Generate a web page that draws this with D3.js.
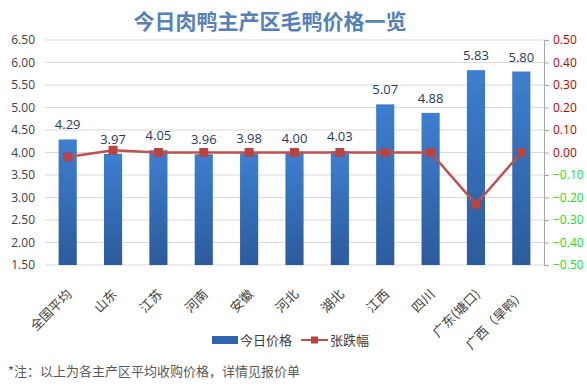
<!DOCTYPE html>
<html>
<head>
<meta charset="utf-8">
<script src="https://cdn.jsdelivr.net/npm/d3@7"></script>
<style>
  body { margin: 0; background: #fff; }
  svg { display: block; font-family: "Noto Sans CJK SC", "Noto Sans", sans-serif; }
</style>
</head>
<body>
<div id="chart"></div>
<script>
const regions = ["全国平均", "山东", "江苏", "河南", "安徽", "河北", "湖北", "江西", "四川", "广东(塘口)", "广西（旱鸭）"];
const prices = [4.29, 3.97, 4.05, 3.96, 3.98, 4.00, 4.03, 5.07, 4.88, 5.83, 5.80];
const changes = [-0.02, 0.01, 0.00, 0.00, 0.00, 0.00, 0.00, 0.00, 0.00, -0.23, 0.00];
const priceTicks = [1.5, 2, 2.5, 3, 3.5, 4, 4.5, 5, 5.5, 6, 6.5];
const changeTicks = [-0.5, -0.4, -0.3, -0.2, -0.1, 0, 0.1, 0.2, 0.3, 0.4, 0.5];

const width = 587;
const height = 389;
const margin = { top: 40, right: 43, bottom: 124, left: 45 };

const svg = d3.select("#chart")
  .append("svg")
  .attr("width", width)
  .attr("height", height);

const defs = svg.append("defs");
const grad = defs.append("linearGradient")
  .attr("id", "barGrad")
  .attr("x1", 0).attr("y1", 0).attr("x2", 0).attr("y2", 1);
grad.append("stop").attr("offset", "0%").attr("stop-color", "#3d7fd0");
grad.append("stop").attr("offset", "100%").attr("stop-color", "#2b5b9c");

const x = d3.scaleBand()
  .domain(regions)
  .range([margin.left, width - margin.right])
  .paddingInner(0.6)
  .paddingOuter(0.3);

const y = d3.scaleLinear()
  .domain([1.5, 6.5])
  .range([height - margin.bottom, margin.top]);

const y2 = d3.scaleLinear()
  .domain([-0.5, 0.5])
  .range([height - margin.bottom, margin.top]);

// title
svg.append("text")
  .attr("x", 270)
  .attr("y", 29)
  .attr("text-anchor", "middle")
  .attr("font-size", "21px")
  .attr("font-weight", "bold")
  .attr("fill", "#5580b8")
  .text("今日肉鸭主产区毛鸭价格一览");

// grid
svg.append("g")
  .selectAll("line")
  .data(priceTicks)
  .join("line")
  .attr("x1", margin.left)
  .attr("x2", width - margin.right)
  .attr("y1", d => y(d))
  .attr("y2", d => y(d))
  .attr("stroke", "#d9d9d9")
  .attr("stroke-width", 1);

// left axis
const yAxis = svg.append("g")
  .attr("transform", `translate(${margin.left},0)`)
  .call(d3.axisLeft(y).tickValues(priceTicks).tickFormat(d3.format(".2f")).tickSize(0).tickPadding(10));
yAxis.select(".domain").remove();
yAxis.selectAll("text")
  .attr("font-size", "12px")
  .attr("fill", "#404040")
  .attr("font-family", "Open Sans, sans-serif");

// right axis
const y2Axis = svg.append("g")
  .attr("transform", `translate(${width - margin.right},0)`)
  .call(d3.axisRight(y2).tickValues(changeTicks).tickFormat(d3.format(".2f")).tickSize(5).tickSizeOuter(0).tickPadding(4));
y2Axis.select(".domain").attr("stroke", "#a6a6a6");
y2Axis.selectAll(".tick line").attr("stroke", "#a6a6a6");
y2Axis.selectAll("text")
  .attr("font-size", "12px")
  .attr("font-family", "Open Sans, sans-serif")
  .attr("fill", d => d < 0 ? "#22dd22" : "#c00000");

// bars
svg.append("g")
  .selectAll("rect")
  .data(regions)
  .join("rect")
  .attr("x", d => x(d))
  .attr("width", x.bandwidth())
  .attr("y", (d, i) => y(prices[i]))
  .attr("height", (d, i) => y(1.5) - y(prices[i]))
  .attr("fill", "url(#barGrad)");

// bar labels
svg.append("g")
  .selectAll("text")
  .data(regions)
  .join("text")
  .attr("x", d => x(d) + x.bandwidth() / 2)
  .attr("y", (d, i) => y(prices[i]) - 10)
  .attr("text-anchor", "middle")
  .attr("font-size", "13px")
  .attr("font-family", "Open Sans, sans-serif")
  .attr("fill", "#1f3a60")
  .text((d, i) => prices[i].toFixed(2));

// change line
const line = d3.line()
  .x((d, i) => x(regions[i]) + x.bandwidth() / 2)
  .y(d => y2(d));

svg.append("path")
  .datum(changes)
  .attr("d", line)
  .attr("fill", "none")
  .attr("stroke", "#c0504d")
  .attr("stroke-width", 2.5);

svg.append("g")
  .selectAll("rect")
  .data(changes)
  .join("rect")
  .attr("x", (d, i) => x(regions[i]) + x.bandwidth() / 2 - 4.5)
  .attr("y", d => y2(d) - 4.5)
  .attr("width", 9)
  .attr("height", 9)
  .attr("fill", "#b8433f");

// x labels
svg.append("g")
  .selectAll("text")
  .data(regions)
  .join("text")
  .attr("transform", d => `translate(${x(d) + x.bandwidth() / 2 + 5},${height - margin.bottom + 30}) rotate(-45)`)
  .attr("text-anchor", "end")
  .attr("font-size", "13px")
  .attr("fill", "#404040")
  .text(d => d);

// legend
const legend = svg.append("g").attr("transform", "translate(0,340)");
legend.append("rect")
  .attr("x", 212).attr("y", -4).attr("width", 26).attr("height", 8)
  .attr("fill", "#2f66b0");
legend.append("text")
  .attr("x", 240).attr("y", 5)
  .attr("font-size", "13px").attr("fill", "#404040")
  .text("今日价格");
legend.append("line")
  .attr("x1", 301).attr("x2", 328).attr("y1", 0).attr("y2", 0)
  .attr("stroke", "#c0504d").attr("stroke-width", 2);
legend.append("rect")
  .attr("x", 311).attr("y", -3.5).attr("width", 7).attr("height", 7)
  .attr("fill", "#b8433f");
legend.append("text")
  .attr("x", 330).attr("y", 5)
  .attr("font-size", "13px").attr("fill", "#404040")
  .text("张跌幅");

// footnote
svg.append("text")
  .attr("x", 8)
  .attr("y", 376)
  .attr("font-size", "13px")
  .attr("fill", "#595959")
  .text("*注：以上为各主产区平均收购价格，详情见报价单");
</script>
</body>
</html>
